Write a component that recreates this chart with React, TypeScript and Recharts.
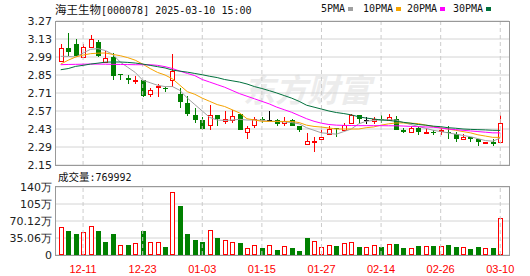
import { ComposedChart, Bar, Line, XAxis, YAxis, CartesianGrid, ReferenceLine } from 'recharts';

// trading days shown (12-06 .. 03-10)
const DATES = [
  '12-06', '12-09', '12-10', '12-11', '12-12', '12-13', '12-16', '12-17', '12-18', '12-19',
  '12-20', '12-23', '12-24', '12-25', '12-26', '12-27', '12-30', '12-31', '01-02', '01-03',
  '01-06', '01-07', '01-08', '01-09', '01-10', '01-13', '01-14', '01-15', '01-16', '01-17',
  '01-20', '01-21', '01-22', '01-23', '01-24', '01-27', '02-05', '02-06', '02-07', '02-10',
  '02-11', '02-12', '02-13', '02-14', '02-17', '02-18', '02-19', '02-20', '02-21', '02-24',
  '02-25', '02-26', '02-27', '02-28', '03-03', '03-04', '03-05', '03-06', '03-07', '03-10',
];

const OPEN = [
  2.96, 3.06, 3.09, 2.99, 3.07, 3.11, 2.95, 2.99, 2.86, 2.83,
  2.80, 2.81, 2.70, 2.755, 2.75, 2.81, 2.70, 2.63, 2.54, 2.50,
  2.46, 2.54, 2.49, 2.50, 2.55, 2.41, 2.46, 2.51, 2.50, 2.50,
  2.48, 2.50, 2.45, 2.31, 2.325, 2.35, 2.39, 2.44, 2.42, 2.48,
  2.54, 2.50, 2.495, 2.51, 2.50, 2.51, 2.42, 2.41, 2.44, 2.40,
  2.41, 2.415, 2.41, 2.39, 2.35, 2.37, 2.35, 2.32, 2.33, 2.33,
];
const CLOSE = [
  3.06, 3.03, 3.00, 3.07, 3.13, 3.00, 2.98, 2.84, 2.85, 2.81,
  2.81, 2.69, 2.73, 2.765, 2.74, 2.88, 2.64, 2.55, 2.50, 2.43,
  2.54, 2.51, 2.51, 2.53, 2.42, 2.44, 2.51, 2.50, 2.50, 2.47,
  2.49, 2.45, 2.42, 2.34, 2.335, 2.37, 2.43, 2.43, 2.46, 2.54,
  2.51, 2.50, 2.505, 2.50, 2.52, 2.42, 2.41, 2.44, 2.41, 2.41,
  2.40, 2.425, 2.40, 2.35, 2.37, 2.35, 2.33, 2.33, 2.31, 2.48,
];
const HIGH = [
  3.09, 3.18, 3.13, 3.09, 3.16, 3.12, 3.04, 3.02, 2.86, 2.85,
  2.84, 2.81, 2.75, 2.78, 2.76, 3.01, 2.75, 2.69, 2.59, 2.52,
  2.62, 2.54, 2.57, 2.58, 2.55, 2.45, 2.52, 2.52, 2.57, 2.51,
  2.52, 2.51, 2.45, 2.40, 2.37, 2.44, 2.45, 2.44, 2.48, 2.55,
  2.54, 2.52, 2.52, 2.54, 2.55, 2.53, 2.44, 2.45, 2.45, 2.44,
  2.42, 2.44, 2.45, 2.41, 2.39, 2.37, 2.35, 2.33, 2.35, 2.54,
];
const LOW = [
  2.95, 3.00, 2.99, 2.98, 3.06, 2.99, 2.94, 2.81, 2.81, 2.78,
  2.78, 2.68, 2.68, 2.68, 2.72, 2.76, 2.59, 2.53, 2.48, 2.42,
  2.42, 2.45, 2.47, 2.48, 2.42, 2.35, 2.44, 2.48, 2.49, 2.45,
  2.45, 2.45, 2.41, 2.31, 2.25, 2.35, 2.385, 2.37, 2.42, 2.47,
  2.47, 2.47, 2.47, 2.48, 2.49, 2.42, 2.40, 2.41, 2.38, 2.40,
  2.38, 2.38, 2.35, 2.33, 2.35, 2.33, 2.30, 2.31, 2.30, 2.33,
];

const MA5 = [
  2.995, 2.995, 2.99, 3.02, 3.05, 3.055, 3.04, 3.01, 2.95, 2.91,
  2.87, 2.81, 2.79, 2.77, 2.76, 2.76, 2.73, 2.67, 2.62, 2.57,
  2.52, 2.50, 2.497, 2.50, 2.505, 2.50, 2.50, 2.497, 2.49, 2.489,
  2.485, 2.48, 2.47, 2.44, 2.42, 2.40, 2.395, 2.39, 2.41, 2.43,
  2.47, 2.49, 2.497, 2.502, 2.502, 2.50, 2.48, 2.465, 2.45, 2.435,
  2.42, 2.41, 2.40, 2.39, 2.38, 2.37, 2.355, 2.34, 2.335, 2.36,
];
const MA10 = [
  2.935, 2.965, 2.99, 3.005, 3.016, 3.02, 3.021, 3.01, 3.0, 2.985,
  2.965, 2.935, 2.90, 2.87, 2.85, 2.82, 2.77, 2.72, 2.70, 2.67,
  2.645, 2.62, 2.605, 2.58, 2.555, 2.51, 2.50, 2.49, 2.489, 2.489,
  2.489, 2.489, 2.48, 2.46, 2.45, 2.445, 2.438, 2.43, 2.43, 2.43,
  2.43, 2.44, 2.446, 2.46, 2.47, 2.477, 2.477, 2.475, 2.472, 2.46,
  2.45, 2.438, 2.43, 2.42, 2.41, 2.40, 2.385, 2.375, 2.365, 2.365,
];
const MA20 = [
  2.93, 2.932, 2.933, 2.934, 2.935, 2.935, 2.934, 2.933, 2.932, 2.931,
  2.93, 2.93, 2.93, 2.925, 2.915, 2.90, 2.88, 2.862, 2.845, 2.815,
  2.795, 2.775, 2.755, 2.73, 2.705, 2.685, 2.665, 2.645, 2.625, 2.60,
  2.58, 2.56, 2.535, 2.51, 2.49, 2.475, 2.465, 2.46, 2.458, 2.457,
  2.456, 2.456, 2.456, 2.456, 2.455, 2.455, 2.453, 2.45, 2.448, 2.446,
  2.444, 2.438, 2.43, 2.425, 2.42, 2.415, 2.41, 2.405, 2.40, 2.40,
];
const MA30 = [
  2.891, 2.90, 2.917, 2.925, 2.935, 2.942, 2.95, 2.951, 2.951, 2.948,
  2.943, 2.935, 2.925, 2.915, 2.905, 2.888, 2.88, 2.872, 2.862, 2.852,
  2.84, 2.83, 2.815, 2.805, 2.795, 2.78, 2.76, 2.745, 2.728, 2.71,
  2.69, 2.67, 2.645, 2.615, 2.60, 2.585, 2.57, 2.558, 2.55, 2.54,
  2.525, 2.515, 2.508, 2.50, 2.497, 2.49, 2.482, 2.475, 2.465, 2.46,
  2.452, 2.448, 2.44, 2.436, 2.43, 2.427, 2.425, 2.423, 2.42, 2.419,
];

// volume in 万 shares, and whether the volume bar is red (up)
const VOL = [
  57.4, 49.8, 43.6, 47.1, 59.5, 49.8, 27.0, 43.6, 20.1, 20.7,
  24.2, 49.8, 27.0, 27.0, 16.6, 130.0, 101.7, 43.6, 31.8, 27.0,
  51.9, 35.9, 31.1, 27.0, 25.6, 14.5, 20.1, 15.2, 20.1, 10.4,
  18.0, 15.2, 8.3, 35.9, 28.4, 15.9, 20.7, 18.7, 24.9, 26.3,
  16.6, 16.6, 20.1, 16.6, 22.8, 22.8, 14.5, 14.5, 18.7, 18.7,
  18.7, 18.7, 20.7, 16.6, 16.6, 13.1, 16.6, 14.5, 15.2, 76.9992,
];
const VOL_UP = [
  1, 0, 0, 1, 1, 0, 0, 0, 1, 0,
  1, 0, 1, 1, 0, 1, 0, 0, 0, 0,
  1, 0, 1, 1, 0, 1, 1, 0, 1, 0,
  1, 0, 0, 0, 1, 1, 1, 0, 1, 1,
  0, 1, 1, 0, 1, 0, 0, 1, 0, 1,
  0, 1, 0, 0, 1, 0, 0, 1, 0, 1,
];

const PRICE_TICKS = [2.15, 2.29, 2.43, 2.57, 2.71, 2.85, 2.99, 3.13, 3.27];
const VOL_TICKS = [0, 35.06, 70.12, 105.18, 140.24];
const VOL_TICK_LABELS = ['0', '35.06万', '70.12万', '105万', '140万'];
const DATE_TICKS = ['12-11', '12-23', '01-03', '01-15', '01-27', '02-14', '02-26', '03-10'];
const MA_NAMES = ['5PMA', '10PMA', '20PMA', '30PMA'];

const RED = '#ff0000';
const GREEN = '#008000';
const MA_COLORS = ['#a0a0a0', '#f5a300', '#ff00ff', '#00703c'];
const MONO = '"DejaVu Sans Mono", "Noto Sans CJK SC", monospace';
const CJK = '"Noto Sans CJK SC", sans-serif';

const rows = DATES.map((date, i) => ({
  date,
  open: OPEN[i],
  close: CLOSE[i],
  high: HIGH[i],
  low: LOW[i],
  ma5: MA5[i],
  ma10: MA10[i],
  ma20: MA20[i],
  ma30: MA30[i],
  vol: VOL[i],
  volUp: VOL_UP[i] === 1,
}));

const Candle = (props: any) => {
  const { x, y, width, height, payload } = props;
  const top = Math.min(y, y + height);
  const bot = Math.max(y, y + height);
  const k = (bot - top) / (payload.high - payload.low);
  const yOf = (v: number) => top + (payload.high - v) * k;
  const cx = Math.round(x + width / 2);
  const up = payload.close > payload.open;
  const flat = payload.close === payload.open;
  const color = flat ? '#000' : up ? RED : GREEN;
  const yo = yOf(payload.open);
  const yc = yOf(payload.close);
  const bTop = Math.round(Math.min(yo, yc));
  const bBot = Math.round(Math.max(yo, yc));
  return (
    <g>
      <line x1={cx + 0.5} x2={cx + 0.5} y1={Math.round(top)} y2={Math.round(bot)} stroke={color} />
      {flat ? (
        <line x1={cx - 2} x2={cx + 3} y1={bTop + 0.5} y2={bTop + 0.5} stroke={color} />
      ) : up ? (
        <rect x={cx - 1.5} y={bTop + 0.5} width={4} height={Math.max(bBot - bTop, 1)} fill="#fff" stroke={color} />
      ) : (
        <rect x={cx - 2} y={bTop} width={5} height={Math.max(bBot - bTop, 1)} fill={color} />
      )}
    </g>
  );
};

const VolBar = (props: any) => {
  const { x, y, width, height, payload } = props;
  const cx = Math.round(x + width / 2);
  const top = Math.round(y);
  const h = Math.round(y + height) - top;
  if (payload.volUp) {
    return <rect x={cx - 1.5} y={top + 0.5} width={4} height={Math.max(h - 1, 1)} fill="#fff" stroke={RED} />;
  }
  return <rect x={cx - 2} y={top} width={5} height={h} fill={GREEN} />;
};

const axisFont = { fontSize: 11, fill: '#222', fontFamily: 'DejaVu Sans' };
const abs = (left: number, top: number): React.CSSProperties => ({ position: 'absolute', left, top });

export default function App() {
  return (
    <div style={{ position: 'absolute', left: 0, top: 0, width: 530, height: 276, background: '#fff', overflow: 'hidden' }}>
      {/* watermark */}
      <div style={{ ...abs(243, 68), fontSize: 32, color: '#ececec', fontWeight: 700, fontStyle: 'italic', fontFamily: CJK, lineHeight: '40px', whiteSpace: 'nowrap' }}>
        东方财富
      </div>

      <div style={abs(0, 0)}>
        <ComposedChart width={530} height={276} data={rows} margin={{ top: 21, right: 21, bottom: 111, left: 0 }}>
          <CartesianGrid vertical={false} stroke="#d4d4d4" />
          <XAxis dataKey="date" hide padding={{ left: 1, right: 5 }} />
          <YAxis
            domain={[2.15, 3.27]}
            ticks={PRICE_TICKS}
            allowDataOverflow
            width={56}
            interval={0}
            axisLine={false}
            tickLine={false}
            tickSize={0}
            tickMargin={4}
            tick={axisFont}
            tickFormatter={(v: number) => v.toFixed(2)}
          />
          {DATE_TICKS.map((d) => (
            <ReferenceLine key={d} x={d} stroke="#cccccc" strokeDasharray="4 3" />
          ))}
          <Bar dataKey={(d: any) => [d.low, d.high]} shape={<Candle />} isAnimationActive={false} />
          <Line dataKey="ma5" stroke={MA_COLORS[0]} dot={false} strokeWidth={1} isAnimationActive={false} />
          <Line dataKey="ma10" stroke={MA_COLORS[1]} dot={false} strokeWidth={1} isAnimationActive={false} />
          <Line dataKey="ma20" stroke={MA_COLORS[2]} dot={false} strokeWidth={1} isAnimationActive={false} />
          <Line dataKey="ma30" stroke={MA_COLORS[3]} dot={false} strokeWidth={1} isAnimationActive={false} />
        </ComposedChart>
      </div>

      <div style={abs(0, 0)}>
        <ComposedChart width={530} height={276} data={rows} margin={{ top: 187, right: 21, bottom: 0, left: 0 }}>
          <CartesianGrid vertical={false} stroke="#d4d4d4" />
          <XAxis
            dataKey="date"
            ticks={DATE_TICKS}
            interval={0}
            height={21}
            padding={{ left: 1, right: 5 }}
            axisLine={false}
            tickLine={false}
            tickMargin={4}
            tick={{ fontSize: 11, fill: RED, fontFamily: 'Liberation Sans' }}
          />
          <YAxis
            domain={[0, 140.24]}
            ticks={VOL_TICKS}
            allowDataOverflow
            width={56}
            interval={0}
            axisLine={false}
            tickLine={false}
            tickSize={0}
            tickMargin={4}
            tick={axisFont}
            tickFormatter={(v: number) => VOL_TICK_LABELS[VOL_TICKS.indexOf(v)] ?? String(v)}
          />
          {DATE_TICKS.map((d) => (
            <ReferenceLine key={d} x={d} stroke="#cccccc" strokeDasharray="4 3" />
          ))}
          <Bar dataKey="vol" shape={<VolBar />} isAnimationActive={false} />
        </ComposedChart>
      </div>

      {/* panel frames */}
      <div style={{ ...abs(55, 21), width: 455, height: 145, border: '1px solid #999', boxSizing: 'border-box' }} />
      <div style={{ ...abs(55, 186), width: 455, height: 70, border: '1px solid #999', boxSizing: 'border-box' }} />

      {/* title + legend */}
      <div style={{ ...abs(55, 2), lineHeight: '14px', color: '#111', whiteSpace: 'nowrap' }}>
        <span style={{ fontFamily: CJK, fontSize: 11.5 }}>海王生物</span>
        <span style={{ fontFamily: MONO, fontSize: 10 }}>[000078] 2025-03-10 15:00</span>
      </div>
      {MA_NAMES.map((name, i) => (
        <div key={name} style={{ ...abs([321, 363, 407, 453][i], 3), fontSize: 10, lineHeight: '12px', fontFamily: MONO, color: '#111', whiteSpace: 'nowrap', display: 'flex', alignItems: 'center' }}>
          {name}
          <span style={{ display: 'inline-block', width: 5, height: 4, marginLeft: 3, background: MA_COLORS[i] }} />
        </div>
      ))}
      <div style={{ ...abs(58, 169), lineHeight: '14px', color: '#111', whiteSpace: 'nowrap' }}>
        <span style={{ fontFamily: CJK, fontSize: 10.5 }}>成交量</span>
        <span style={{ fontFamily: MONO, fontSize: 10 }}>:769992</span>
      </div>
    </div>
  );
}
